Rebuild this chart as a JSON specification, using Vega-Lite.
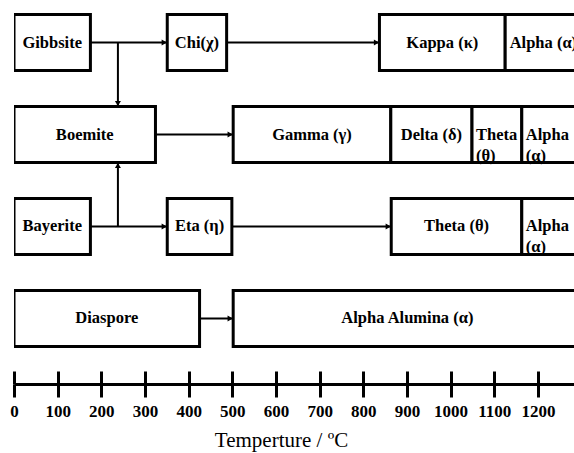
{
  "$schema": "https://vega.github.io/schema/vega-lite/v6.json",
  "width": 560,
  "height": 384,
  "autosize": {"type": "none"},
  "padding": {"left": 14, "top": 0, "right": 0, "bottom": 69},
  "background": "white",
  "config": {"view": {"stroke": null}, "font": "Liberation Serif"},
  "datasets": {
    "phases": [
      {"row": "Gibbsite", "label": "Gibbsite", "start": 0, "end": 175},
      {"row": "Gibbsite", "label": "Chi(χ)", "start": 351, "end": 487},
      {"row": "Gibbsite", "label": "Kappa (κ)", "start": 837, "end": 1125},
      {"row": "Gibbsite", "label": "Alpha (α)", "start": 1125, "end": 1300},
      {"row": "Boemite", "label": "Boemite", "start": 0, "end": 324},
      {"row": "Boemite", "label": "Gamma (γ)", "start": 502, "end": 863},
      {"row": "Boemite", "label": "Delta (δ)", "start": 863, "end": 1049},
      {"row": "Boemite", "label": "Theta\n(θ)", "start": 1049, "end": 1163},
      {"row": "Boemite", "label": "Alpha\n(α)", "start": 1163, "end": 1300},
      {"row": "Bayerite", "label": "Bayerite", "start": 0, "end": 175},
      {"row": "Bayerite", "label": "Eta (η)", "start": 351, "end": 499},
      {"row": "Bayerite", "label": "Theta (θ)", "start": 864, "end": 1163},
      {"row": "Bayerite", "label": "Alpha\n(α)", "start": 1163, "end": 1300},
      {"row": "Diaspore", "label": "Diaspore", "start": 0, "end": 425},
      {"row": "Diaspore", "label": "Alpha Alumina (α)", "start": 502, "end": 1300}
    ],
    "arrows": [
      {"from_row": "Gibbsite", "to_row": "Gibbsite", "start": 175, "end": 351},
      {"from_row": "Gibbsite", "to_row": "Gibbsite", "start": 487, "end": 837},
      {"from_row": "Gibbsite", "to_row": "Boemite", "start": 238, "end": 238},
      {"from_row": "Boemite", "to_row": "Boemite", "start": 324, "end": 502},
      {"from_row": "Bayerite", "to_row": "Bayerite", "start": 175, "end": 351},
      {"from_row": "Bayerite", "to_row": "Boemite", "start": 238, "end": 238},
      {"from_row": "Bayerite", "to_row": "Bayerite", "start": 499, "end": 864},
      {"from_row": "Diaspore", "to_row": "Diaspore", "start": 425, "end": 502}
    ]
  },
  "resolve": {"axis": {"x": "independent"}},
  "layer": [
    {
      "data": {"name": "phases"},
      "mark": {"type": "rect", "fill": "white", "stroke": "black", "strokeWidth": 3, "clip": true},
      "encoding": {
        "x": {
          "field": "start", "type": "quantitative",
          "scale": {"domain": [0, 1282.6], "nice": false, "zero": false},
          "axis": {
            "orient": "bottom",
            "values": [0, 100, 200, 300, 400, 500, 600, 700, 800, 900, 1000, 1100, 1200],
            "format": "d",
            "grid": false, "tickSize": 13, "tickWidth": 3, "tickColor": "black",
            "domainWidth": 3, "domainColor": "black",
            "labelFont": "Liberation Serif", "labelFontSize": 17, "labelFontWeight": "bold",
            "labelColor": "black", "labelPadding": 6, "labelFlush": false, "labelOverlap": false,
            "title": "Temperture / ºC", "titleFont": "Liberation Serif", "titleFontSize": 21,
            "titleFontWeight": "normal", "titleColor": "black", "titlePadding": 10, "titleX": 267
          }
        },
        "x2": {"field": "end"},
        "y": {
          "field": "row", "type": "nominal", "axis": null,
          "scale": {"type": "band", "domain": ["Gibbsite", "Boemite", "Bayerite", "Diaspore"], "range": [14.5, 346.5], "paddingInner": 0.391, "paddingOuter": 0}
        }
      }
    },
    {
      "data": {"name": "arrows"},
      "transform": [{"filter": "datum.from_row == datum.to_row"}],
      "mark": {"type": "rule", "color": "black", "strokeWidth": 2},
      "encoding": {
        "x": {
          "field": "start", "type": "quantitative",
          "axis": {
            "orient": "bottom",
            "values": [0, 100, 200, 300, 400, 500, 600, 700, 800, 900, 1000, 1100, 1200],
            "grid": false, "tickSize": -13, "tickWidth": 3, "tickColor": "black",
            "domain": false, "labels": false, "title": null
          }
        },
        "x2": {"field": "end"},
        "y": {"field": "from_row", "type": "nominal", "axis": null}
      }
    },
    {
      "data": {"name": "arrows"},
      "transform": [{"filter": "datum.from_row == datum.to_row"}],
      "mark": {"type": "point", "shape": "triangle-right", "filled": true, "color": "black", "opacity": 1, "size": 36, "xOffset": -3},
      "encoding": {
        "x": {"field": "end", "type": "quantitative", "axis": null},
        "y": {"field": "from_row", "type": "nominal", "axis": null}
      }
    },
    {
      "data": {"name": "arrows"},
      "transform": [{"filter": "datum.from_row == 'Gibbsite' && datum.to_row == 'Boemite'"}],
      "mark": {"type": "rule", "color": "black", "strokeWidth": 2},
      "encoding": {
        "x": {"field": "start", "type": "quantitative", "axis": null},
        "y": {"field": "from_row", "type": "nominal", "axis": null, "bandPosition": 0.5},
        "y2": {"field": "to_row", "bandPosition": 0}
      }
    },
    {
      "data": {"name": "arrows"},
      "transform": [{"filter": "datum.from_row == 'Gibbsite' && datum.to_row == 'Boemite'"}],
      "mark": {"type": "point", "shape": "triangle-down", "filled": true, "color": "black", "opacity": 1, "size": 36, "yOffset": -3},
      "encoding": {
        "x": {"field": "end", "type": "quantitative", "axis": null},
        "y": {"field": "to_row", "type": "nominal", "axis": null, "bandPosition": 0}
      }
    },
    {
      "data": {"name": "arrows"},
      "transform": [{"filter": "datum.from_row == 'Bayerite' && datum.to_row == 'Boemite'"}],
      "mark": {"type": "rule", "color": "black", "strokeWidth": 2},
      "encoding": {
        "x": {"field": "start", "type": "quantitative", "axis": null},
        "y": {"field": "from_row", "type": "nominal", "axis": null, "bandPosition": 0.5},
        "y2": {"field": "to_row", "bandPosition": 1}
      }
    },
    {
      "data": {"name": "arrows"},
      "transform": [{"filter": "datum.from_row == 'Bayerite' && datum.to_row == 'Boemite'"}],
      "mark": {"type": "point", "shape": "triangle-up", "filled": true, "color": "black", "opacity": 1, "size": 36, "yOffset": 3},
      "encoding": {
        "x": {"field": "end", "type": "quantitative", "axis": null},
        "y": {"field": "to_row", "type": "nominal", "axis": null, "bandPosition": 1}
      }
    },
    {
      "data": {"name": "phases"},
      "transform": [
        {"filter": "indexof(datum.label, '\\n') < 0"},
        {"calculate": "(datum.start + datum.end) / 2", "as": "mid"}
      ],
      "mark": {"type": "text", "font": "Liberation Serif", "fontSize": 16.5, "fontWeight": "bold", "color": "black", "align": "center", "baseline": "middle", "clip": true},
      "encoding": {
        "x": {"field": "mid", "type": "quantitative", "axis": null},
        "y": {"field": "row", "type": "nominal", "axis": null},
        "text": {"field": "label"}
      }
    },
    {
      "data": {"name": "phases"},
      "transform": [{"filter": "indexof(datum.label, '\\n') >= 0"}],
      "mark": {"type": "text", "font": "Liberation Serif", "fontSize": 16.5, "fontWeight": "bold", "color": "black", "align": "left", "baseline": "middle", "dx": 4, "lineBreak": "\n", "lineHeight": 21, "clip": true},
      "encoding": {
        "x": {"field": "start", "type": "quantitative", "axis": null},
        "y": {"field": "row", "type": "nominal", "axis": null},
        "text": {"field": "label"}
      }
    }
  ]
}
